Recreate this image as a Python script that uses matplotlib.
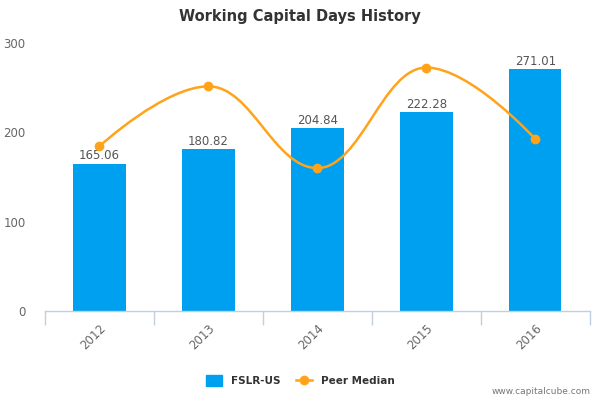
import numpy as np
import matplotlib.pyplot as plt
from matplotlib.path import Path
from matplotlib.patches import PathPatch

years = ['2012', '2013', '2014', '2015', '2016']
fslr = [165.06, 180.82, 204.84, 222.28, 271.01]
peer = [184.5, 251.5, 160.0, 272.5, 192.5]

bar_color = '#00A0F0'
line_color = '#FFA31A'


def spline_path(xs, ys, smoothing=1.5):
    # bezier through points, like a highcharts spline
    n = len(xs)
    denom = smoothing + 1
    left, right = [], []
    for i in range(n):
        x, y = xs[i], ys[i]
        if i == 0 or i == n - 1:
            left.append((x, y))
            right.append((x, y))
            continue
        lx, ly = xs[i-1], ys[i-1]
        nx, ny = xs[i+1], ys[i+1]
        lcx = (smoothing*x + lx)/denom
        lcy = (smoothing*y + ly)/denom
        rcx = (smoothing*x + nx)/denom
        rcy = (smoothing*y + ny)/denom
        corr = (rcy - lcy)*(rcx - x)/(rcx - lcx) + y - rcy
        lcy += corr
        rcy += corr
        if lcy > ly and lcy > y:
            lcy = max(ly, y); rcy = 2*y - lcy
        elif lcy < ly and lcy < y:
            lcy = min(ly, y); rcy = 2*y - lcy
        if rcy > ny and rcy > y:
            rcy = max(ny, y); lcy = 2*y - rcy
        elif rcy < ny and rcy < y:
            rcy = min(ny, y); lcy = 2*y - rcy
        left.append((lcx, lcy))
        right.append((rcx, rcy))
    verts = [(xs[0], ys[0])]
    codes = [Path.MOVETO]
    for i in range(1, n):
        verts += [right[i-1], left[i], (xs[i], ys[i])]
        codes += [Path.CURVE4]*3
    return Path(verts, codes)


fig = plt.figure(figsize=(6, 4), dpi=100)
ax = fig.add_axes([0.075, 0.2225, 0.908, 0.67])
x = np.arange(len(years))

ax.bar(x, fslr, width=0.48, color=bar_color, zorder=2)
for xi, v in zip(x, fslr):
    ax.text(xi, v + 1.5, '%.2f' % v, ha='center', va='bottom', fontsize=8.5, color='#555555')

ax.add_patch(PathPatch(spline_path(x, peer), fill=False, edgecolor=line_color, lw=1.8, zorder=3))
ax.plot(x, peer, 'o', color=line_color, ms=6, zorder=4)

ax.set_xlim(-0.5, 4.5)
ax.set_ylim(0, 300)
ax.set_yticks([0, 100, 200, 300])
ax.set_xticks(x)
ax.set_xticklabels(years, rotation=45, ha='right', va='top', rotation_mode='anchor')
ax.set_xticks(np.arange(-0.5, 5, 1), minor=True)
ax.tick_params(axis='x', which='major', length=0, pad=8, labelsize=8.5, labelcolor='#666666')
ax.tick_params(axis='x', which='minor', length=10, color='#C0D0E0', width=1)
ax.tick_params(axis='y', length=0, pad=14, labelsize=8.5, labelcolor='#666666')
for s in ['top', 'right', 'left']:
    ax.spines[s].set_visible(False)
ax.spines['bottom'].set_color('#C0D0E0')
ax.spines['bottom'].set_linewidth(1)

fig.text(0.5, 0.96, 'Working Capital Days History', ha='center', va='center',
         fontsize=10.5, fontweight='bold', color='#333333')

h1 = plt.Rectangle((0, 0), 1, 1, color=bar_color)
h2, = ax.plot([], [], '-o', color=line_color, ms=6, lw=1.8)
fig.legend([h1, h2], ['FSLR-US', 'Peer Median'], loc='center', bbox_to_anchor=(0.5, 0.048),
           ncol=2, frameon=False, prop={'weight': 'bold', 'size': 7.5},
           handlelength=1.6, handleheight=1.2, columnspacing=1.5, labelcolor='#333333')

fig.text(0.985, 0.02, 'www.capitalcube.com', ha='right', va='center', fontsize=6.5, color='#777777')

fig.savefig('out.png', dpi=100)
